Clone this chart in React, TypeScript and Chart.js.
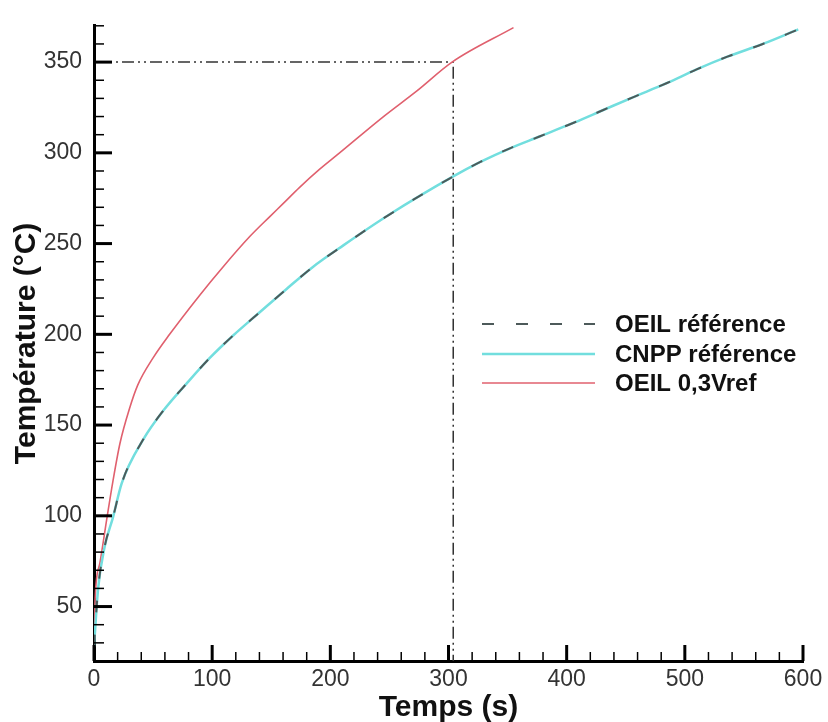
import React, { useEffect, useRef } from "react";
import { Chart, registerables } from "chart.js";

Chart.register(...registerables);

// ---- Data ----
const oeilRefTime = [0, 3.5, 9, 16, 23.5, 41.6, 58.7, 78.5, 98, 118, 140, 163, 185, 211, 250, 304, 327, 352, 377, 406, 431, 456, 485, 510, 536, 566, 596];
const oeilRefTemp = [28, 60, 83, 99, 118, 142, 158, 173, 187, 199.5, 212, 225, 237, 249, 266, 287, 295, 302.5, 309, 316.6, 323.6, 330.6, 338.5, 346, 353, 360, 368];

const cnppRefTime = [0, 3.5, 9, 16, 23.5, 41.6, 58.7, 78.5, 98, 118, 140, 163, 185, 211, 250, 304, 327, 352, 377, 406, 431, 456, 485, 510, 536, 566, 596];
const cnppRefTemp = [28, 60, 83, 99, 118, 142, 158, 173, 187, 199.5, 212, 225, 237, 249, 266, 287, 295, 302.5, 309, 316.6, 323.6, 330.6, 338.5, 346, 353, 360, 368];

const oeil03Time = [0, 1, 5, 11, 16, 22, 30, 37, 50, 64, 90, 109, 132, 149, 160, 174, 191, 206, 245, 273, 303, 355];
const oeil03Temp = [28, 55, 74, 99, 119, 140, 159, 172, 187, 200, 222, 237, 254, 265, 272, 281, 291, 299, 320, 334, 350, 369];

const markerTime = 304;
const markerTemp = 350;

const xTickValues = [0, 100, 200, 300, 400, 500, 600];
const yTickValues = [50, 100, 150, 200, 250, 300, 350];
const xMin = 0, xMax = 600, xMinorStep = 20;
const yMin = 20, yMax = 370, yMinorStep = 10;

const seriesLabels = ["OEIL référence", "CNPP référence", "OEIL 0,3Vref"];
const xTitle = "Temps (s)";
const yTitle = "Température (°C)";

const toPoints = (xs: number[], ys: number[]) => xs.map((x, i) => ({ x, y: ys[i] }));

const FONT = 'Arial, "Liberation Sans", sans-serif';

const innerTicksPlugin = {
  id: "innerTicks",
  afterDraw(chart: any) {
    const { ctx, scales } = chart;
    const x = scales.x, y = scales.y;
    const bottom = y.getPixelForValue(yMin);
    const left = x.getPixelForValue(xMin);
    ctx.save();
    ctx.strokeStyle = "#000";
    for (let v = xMin; v <= xMax + 0.001; v += xMinorStep) {
      const major = xTickValues.includes(v);
      const px = x.getPixelForValue(v);
      ctx.lineWidth = major ? 3 : 1.5;
      ctx.beginPath();
      ctx.moveTo(px, bottom);
      ctx.lineTo(px, bottom - (major ? 16 : 9));
      ctx.stroke();
    }
    for (let v = yMin; v <= yMax + 0.001; v += yMinorStep) {
      const major = yTickValues.includes(v);
      const py = y.getPixelForValue(v);
      ctx.lineWidth = major ? 3 : 1.5;
      ctx.beginPath();
      ctx.moveTo(left, py);
      ctx.lineTo(left + (major ? 18 : 10), py);
      ctx.stroke();
    }
    ctx.restore();
  },
};

const legendPlugin = {
  id: "customLegend",
  afterDraw(chart: any) {
    const { ctx } = chart;
    const lineX0 = 482, lineX1 = 595, textX = 615;
    const rows = [324, 354, 383];
    ctx.save();
    for (let i = 0; i < 3; i++) {
      const ds = chart.data.datasets[i];
      ctx.strokeStyle = ds.borderColor;
      ctx.lineWidth = ds.borderWidth;
      ctx.setLineDash(ds.borderDash || []);
      ctx.beginPath();
      ctx.moveTo(lineX0, rows[i]);
      ctx.lineTo(lineX1, rows[i]);
      ctx.stroke();
      ctx.setLineDash([]);
      ctx.fillStyle = "#111";
      ctx.font = `bold 24px ${FONT}`;
      ctx.textBaseline = "middle";
      ctx.textAlign = "left";
      ctx.fillText(ds.label, textX, rows[i] + 1);
    }
    ctx.restore();
  },
};

export default function App() {
  const canvasRef = useRef<HTMLCanvasElement | null>(null);

  useEffect(() => {
    if (!canvasRef.current) return;
    const chart = new Chart(canvasRef.current, {
      type: "line",
      data: {
        datasets: [
          {
            label: seriesLabels[0],
            data: toPoints(oeilRefTime, oeilRefTemp),
            borderColor: "#4d5a5a",
            borderWidth: 2,
            borderDash: [12, 22],
            pointRadius: 0,
            cubicInterpolationMode: "monotone",
            fill: false,
          },
          {
            label: seriesLabels[1],
            data: toPoints(cnppRefTime, cnppRefTemp),
            borderColor: "#72dede",
            borderWidth: 2.5,
            pointRadius: 0,
            cubicInterpolationMode: "monotone",
            fill: false,
          },
          {
            label: seriesLabels[2],
            data: toPoints(oeil03Time, oeil03Temp),
            borderColor: "#e0606e",
            borderWidth: 1.6,
            pointRadius: 0,
            cubicInterpolationMode: "monotone",
            fill: false,
          },
          {
            label: "marker",
            data: [
              { x: xMin, y: markerTemp },
              { x: markerTime, y: markerTemp },
              { x: markerTime, y: yMin },
            ],
            borderColor: "#333",
            borderWidth: 1.5,
            borderDash: [12, 4, 2, 4, 2, 4],
            pointRadius: 0,
            tension: 0,
            fill: false,
          },
        ] as any,
      },
      options: {
        animation: false,
        responsive: false,
        maintainAspectRatio: false,
        layout: { padding: { top: 15, right: 25, left: 0, bottom: 0 } },
        plugins: { legend: { display: false }, tooltip: { enabled: false } },
        scales: {
          x: {
            type: "linear",
            min: xMin,
            max: xMax,
            grid: { display: false, drawTicks: false },
            border: { display: true, color: "#000", width: 3 },
            afterBuildTicks: (s: any) => {
              s.ticks = xTickValues.map((v) => ({ value: v }));
            },
            afterFit: (s: any) => {
              s.height = 61;
            },
            ticks: {
              padding: 5,
              color: "#333",
              font: { family: FONT, size: 23 },
              maxRotation: 0,
              autoSkip: false,
            },
            title: {
              display: true,
              text: xTitle,
              color: "#111",
              font: { family: FONT, size: 30, weight: "bold", lineHeight: 1 },
              padding: { top: 0, bottom: -1 },
            },
          },
          y: {
            type: "linear",
            min: yMin,
            max: yMax,
            grid: { display: false, drawTicks: false },
            border: { display: true, color: "#000", width: 3 },
            afterBuildTicks: (s: any) => {
              s.ticks = yTickValues.map((v) => ({ value: v }));
            },
            afterFit: (s: any) => {
              s.width = 94;
            },
            ticks: {
              padding: 12,
              color: "#333",
              font: { family: FONT, size: 23 },
              autoSkip: false,
            },
            title: {
              display: true,
              text: yTitle,
              color: "#111",
              font: { family: FONT, size: 30, weight: "bold", lineHeight: 1 },
              padding: { top: 12, bottom: 0 },
            },
          },
        },
      } as any,
      plugins: [innerTicksPlugin, legendPlugin],
    });
    return () => chart.destroy();
  }, []);

  return (
    <div style={{ position: "fixed", left: 0, top: 0, width: 828, height: 722, background: "#fff" }}>
      <canvas ref={canvasRef} width={828} height={722} style={{ display: "block" }} />
    </div>
  );
}
